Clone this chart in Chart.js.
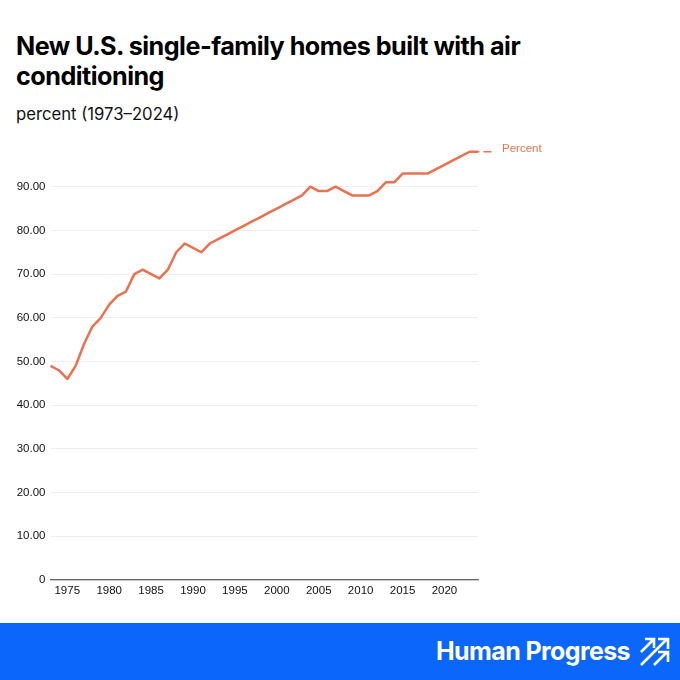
<!DOCTYPE html>
<html lang="en">
<head>
    <meta charset="UTF-8">
    <title>New U.S. single-family homes built with air conditioning</title>
    <script src="https://cdn.jsdelivr.net/npm/chart.js"></script>
    <style>
        html, body {
            margin: 0;
            padding: 0;
            width: 680px;
            height: 680px;
            overflow: hidden;
            background: #fff;
            font-family: Inter, Arial, sans-serif;
        }
        h1 {
            position: absolute;
            left: 16px;
            top: 32px;
            width: 560px;
            margin: 0;
            font-size: 25.2px;
            line-height: 29.5px;
            font-weight: 700;
            letter-spacing: -0.52px;
            color: #000;
        }
        .subtitle {
            position: absolute;
            left: 16px;
            top: 103px;
            font-size: 16.7px;
            line-height: 22px;
            color: #111;
        }
        #chart {
            position: absolute;
            left: 0;
            top: 131px;
        }
        .banner {
            position: absolute;
            left: 0;
            top: 623px;
            width: 680px;
            height: 57px;
            background: #0b66fb;
        }
        .brand {
            position: absolute;
            left: 436px;
            top: 12px;
            font-size: 25px;
            line-height: 32px;
            font-weight: 700;
            letter-spacing: -0.6px;
            color: #fff;
        }
        .banner svg {
            position: absolute;
            left: 639px;
            top: 14px;
        }
    </style>
</head>
<body>
    <h1>New U.S. single-family homes built with air conditioning</h1>
    <div class="subtitle">percent (1973–2024)</div>
    <canvas id="chart" width="680" height="480"></canvas>
    <div class="banner">
        <div class="brand">Human Progress</div>
        <svg width="31" height="30" viewBox="0 0 31 30" fill="none" stroke="#fff" stroke-width="2.6">
            <path d="M2 15 L14 3 M6 2 H15 V11" />
            <path d="M2 28 L28 2 M19 2 H29 V12" />
            <path d="M15 28 L28 15 M19 15 H29 V25" />
        </svg>
    </div>

    <script>
        const years = [1973, 1974, 1975, 1976, 1977, 1978, 1979, 1980, 1981, 1982, 1983, 1984, 1985,
            1986, 1987, 1988, 1989, 1990, 1991, 1992, 1993, 1994, 1995, 1996, 1997, 1998, 1999,
            2000, 2001, 2002, 2003, 2004, 2005, 2006, 2007, 2008, 2009, 2010, 2011, 2012, 2013,
            2014, 2015, 2016, 2017, 2018, 2019, 2020, 2021, 2022, 2023, 2024];
        const percent = [49, 48, 46, 49, 54, 58, 60, 63, 65, 66, 70, 71, 70,
            69, 71, 75, 77, 76, 75, 77, 78, 79, 80, 81, 82, 83, 84,
            85, 86, 87, 88, 90, 89, 89, 90, 89, 88, 88, 88, 89, 91,
            91, 93, 93, 93, 93, 94, 95, 96, 97, 98, 98];
        const yTicks = [0, 10, 20, 30, 40, 50, 60, 70, 80, 90];
        const seriesName = 'Percent';
        const lineColor = '#e9714f';

        // dash and name at the end of the line
        const endLabel = {
            id: 'endLabel',
            afterDatasetsDraw(chart) {
                const pt = chart.getDatasetMeta(0).data[years.length - 1];
                const c = chart.ctx;
                c.save();
                c.strokeStyle = lineColor;
                c.lineWidth = 1.6;
                c.setLineDash([1.5, 4, 8, 100]);
                c.beginPath();
                c.moveTo(pt.x, pt.y);
                c.lineTo(pt.x + 14, pt.y);
                c.stroke();
                c.fillStyle = lineColor;
                c.font = '11.5px "Liberation Sans"';
                c.textBaseline = 'middle';
                c.fillText(seriesName, pt.x + 24, pt.y - 3);
                c.restore();
            }
        };

        new Chart(document.getElementById('chart').getContext('2d'), {
            type: 'line',
            data: {
                labels: years,
                datasets: [{
                    label: seriesName,
                    data: percent,
                    borderColor: lineColor,
                    borderWidth: 2.5,
                    pointRadius: 0,
                    tension: 0,
                    borderJoinStyle: 'round',
                    clip: false
                }]
            },
            options: {
                responsive: false,
                animation: false,
                layout: { padding: { top: 12, right: 202, left: 0, bottom: 0 } },
                plugins: { legend: { display: false }, tooltip: { enabled: false } },
                scales: {
                    x: {
                        offset: false,
                        afterFit(scale) { scale.height = 31; },
                        grid: { display: false, drawTicks: false },
                        border: { color: '#666', width: 1.2 },
                        ticks: {
                            autoSkip: false,
                            maxRotation: 0,
                            padding: 4,
                            color: '#111',
                            font: { family: '"Liberation Sans"', size: 11.5 },
                            callback(value) {
                                const y = years[value];
                                return y % 5 === 0 && y < 2025 ? String(y) : '';
                            }
                        }
                    },
                    y: {
                        min: 0,
                        max: 100,
                        afterFit(scale) { scale.width = 50.5; },
                        afterBuildTicks(scale) { scale.ticks = yTicks.map(v => ({ value: v })); },
                        grid: { color: '#eeeeee', lineWidth: 1, drawTicks: false },
                        border: { display: false },
                        ticks: {
                            padding: 5,
                            color: '#111',
                            font: { family: '"Liberation Sans"', size: 11.5 },
                            callback(value) { return value === 0 ? '0' : value.toFixed(2); }
                        }
                    }
                }
            },
            plugins: [endLabel]
        });
    </script>
</body>
</html>
